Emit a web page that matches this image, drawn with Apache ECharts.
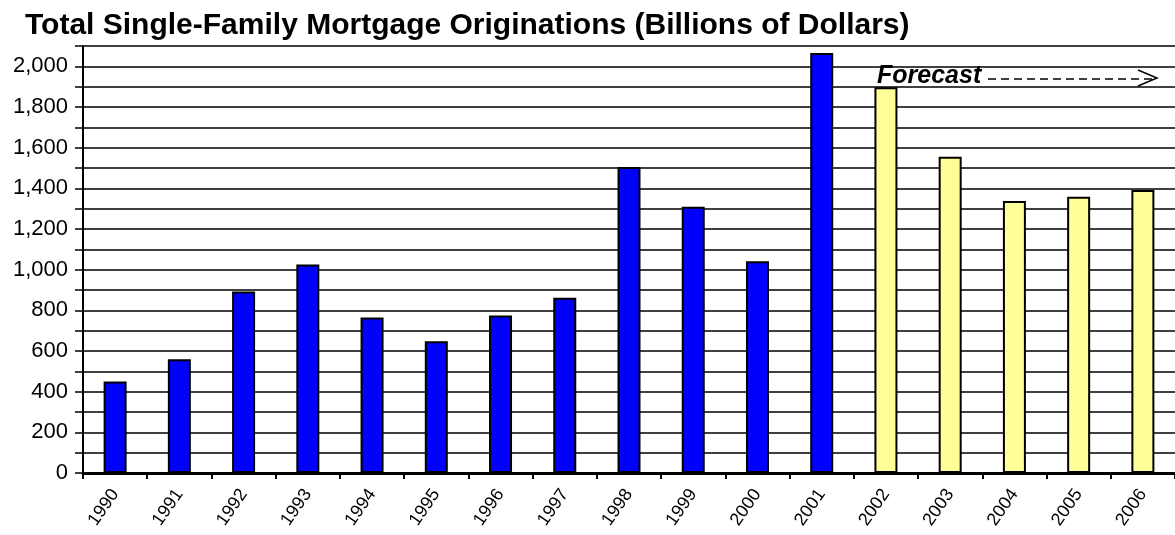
<!DOCTYPE html>
<html>
<head>
<meta charset="utf-8">
<script src="https://cdn.jsdelivr.net/npm/echarts@6/dist/echarts.min.js"></script>
<style>
  html, body { margin: 0; padding: 0; background: #fff; }
  #chart { width: 1175px; height: 535px; }
</style>
</head>
<body>
<div id="chart"></div>
<script>
// data (billions of dollars)
var years = ['1990', '1991', '1992', '1993', '1994', '1995', '1996', '1997', '1998',
  '1999', '2000', '2001', '2002', '2003', '2004', '2005', '2006'];
var actualValues = [450, 560, 893, 1025, 765, 648, 775, 862, 1505, 1310, 1042, 2065,
  null, null, null, null, null];
var forecastValues = [null, null, null, null, null, null, null, null, null, null, null, null,
  1897, 1555, 1338, 1358, 1392];
var yTicks = [0, 200, 400, 600, 800, 1000, 1200, 1400, 1600, 1800, 2000];

var font = '"Liberation Sans", Arial, sans-serif';

var myChart = echarts.init(document.getElementById('chart'), null, { renderer: 'canvas' });

var option = {
  backgroundColor: '#fff',
  animation: false,
  title: {
    text: 'Total Single-Family Mortgage Originations (Billions of Dollars)',
    left: 20,
    top: 6,
    textStyle: { fontFamily: font, fontSize: 30, fontWeight: 'bold', color: '#000' }
  },
  grid: { left: 83, right: 0, top: 46, bottom: 62, containLabel: false },
  xAxis: {
    type: 'category',
    data: years,
    boundaryGap: true,
    axisLine: { lineStyle: { color: '#000', width: 3 } },
    axisTick: { show: true, length: 6, lineStyle: { color: '#000', width: 2 } },
    axisLabel: {
      rotate: 55,
      margin: 18,
      color: '#000',
      fontFamily: font,
      fontSize: 18,
      interval: 0
    }
  },
  yAxis: {
    type: 'value',
    min: 0,
    max: 2100,
    interval: 100,
    axisLine: { show: true, lineStyle: { color: '#000', width: 2 } },
    axisTick: { show: true, length: 8, lineStyle: { color: '#000', width: 1.5 } },
    splitLine: { show: true, lineStyle: { color: '#000', width: 1.6 } },
    axisLabel: {
      margin: 15,
      color: '#000',
      fontFamily: font,
      fontSize: 22,
      formatter: function (v) {
        return yTicks.indexOf(v) >= 0 ? v.toLocaleString('en-US') : '';
      }
    }
  },
  series: [
    {
      name: 'Actual',
      type: 'bar',
      data: actualValues,
      barWidth: 23,
      barGap: '-100%',
      itemStyle: { color: '#0000ff', borderColor: '#000', borderWidth: 2 }
    },
    {
      name: 'Forecast',
      type: 'bar',
      data: forecastValues,
      barWidth: 23,
      itemStyle: { color: '#ffff99', borderColor: '#000', borderWidth: 2 }
    }
  ],
  graphic: [
    {
      type: 'text',
      left: 877,
      top: 64,
      style: {
        text: 'Forecast',
        fontFamily: font,
        fontSize: 25,
        fontWeight: 'bold',
        fontStyle: 'italic',
        fill: '#000'
      }
    },
    {
      type: 'line',
      shape: { x1: 988, y1: 79, x2: 1152, y2: 79 },
      style: { stroke: '#000', lineWidth: 1.5, lineDash: [8, 5] }
    },
    {
      type: 'polyline',
      shape: { points: [[1138, 70], [1157, 78], [1138, 86]] },
      style: { stroke: '#000', lineWidth: 1.5, fill: null }
    }
  ]
};

myChart.setOption(option);
</script>
</body>
</html>
